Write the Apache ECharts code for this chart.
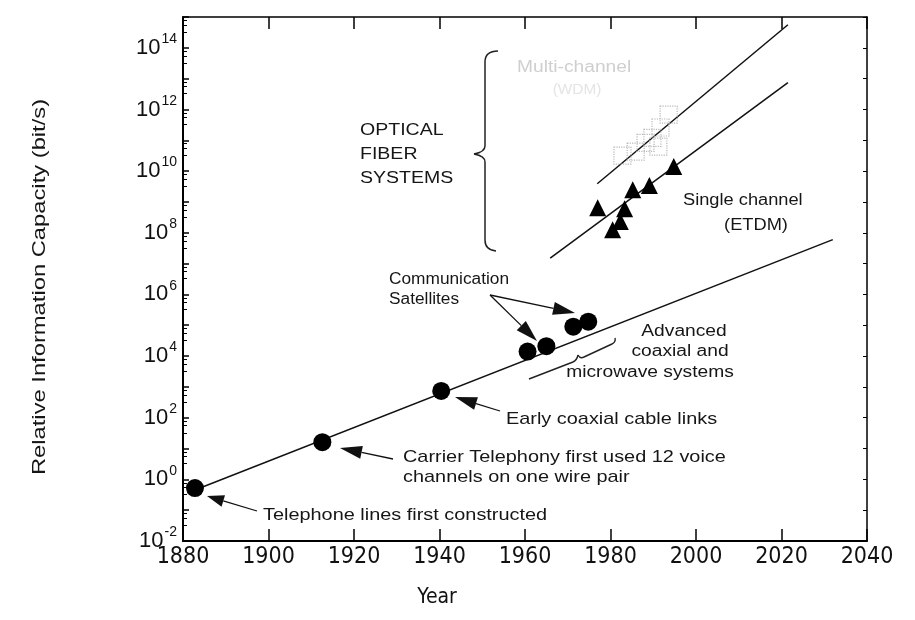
<!DOCTYPE html>
<html>
<head>
<meta charset="utf-8">
<script src="https://cdn.jsdelivr.net/npm/echarts@6/dist/echarts.min.js"></script>
<style>html,body{margin:0;padding:0;background:#fff;}#c{width:915px;height:620px;}</style>
</head>
<body>
<div id="c"></div>
<script>
// ---- data ----
const xTicks = [1880, 1900, 1920, 1940, 1960, 1980, 2000, 2020, 2040];
const yTickExponents = [-2, 0, 2, 4, 6, 8, 10, 12, 14];

const lowerTrendYears = [1881, 2032];
const lowerTrendValues = [0.36, 6e7];
const singleTrendYears = [1965.9, 2021.5];
const singleTrendValues = [1.5e7, 7.4e12];
const multiTrendYears = [1976.9, 2021.5];
const multiTrendValues = [3.9e9, 5.6e14];

const circleYears = [1882.8, 1912.6, 1940.4, 1960.6, 1965.0, 1971.3, 1974.8];
const circleValues = [0.52, 16, 740, 1.4e4, 2.1e4, 9e4, 1.3e5];

const triangleYears = [1977.0, 1980.5, 1982.3, 1983.3, 1985.2, 1989.1, 1994.8];
const triangleValues = [6.5e8, 1.26e8, 2.3e8, 6e8, 2.5e9, 3.4e9, 1.4e10];

const squareYears = [1982.8, 1985.9, 1988.2, 1989.8, 1991.2, 1991.7, 1993.6];
const squareValues = [3.2e10, 4.3e10, 8.3e10, 1.2e11, 6.2e10, 2.6e11, 6.8e11];

// ---- helpers ----
const zip = (xs, ys) => xs.map((x, i) => [x, ys[i]]);
const FONT = "'Liberation Sans', Arial, sans-serif";
const NARROW = "'Liberation Sans Narrow', 'DejaVu Sans Condensed', 'Liberation Sans', sans-serif";

function txt(x, y, s, opt) {
  opt = opt || {};
  return {
    type: 'text', x: x, y: y, scaleX: opt.scaleX || 1.17, z: 10,
    style: {
      text: s, fontSize: opt.size || 17, fontFamily: opt.family || FONT,
      fill: opt.color || '#161616', align: opt.align || 'left', verticalAlign: 'middle'
    }
  };
}
function arrow(x1, y1, x2, y2, hl, hw) {
  const dx = x2 - x1, dy = y2 - y1, L = Math.sqrt(dx * dx + dy * dy);
  const ux = dx / L, uy = dy / L, px = -uy, py = ux;
  const bx = x2 - ux * hl, by = y2 - uy * hl;
  return [
    { type: 'line', z: 10, shape: { x1: x1, y1: y1, x2: bx, y2: by }, style: { stroke: '#111', lineWidth: 1.3 } },
    { type: 'polygon', z: 10, shape: { points: [[x2, y2], [bx + px * hw / 2, by + py * hw / 2], [bx - px * hw / 2, by - py * hw / 2]] }, style: { fill: '#111' } }
  ];
}
// segs: ['L', x1,y1,x2,y2] or ['Q', x1,y1,cx,cy,x2,y2]
function strokes(segs, w) {
  return segs.map(s => s[0] === 'L'
    ? { type: 'line', z: 10, shape: { x1: s[1], y1: s[2], x2: s[3], y2: s[4] }, style: { stroke: '#222', lineWidth: w } }
    : { type: 'bezierCurve', z: 10, shape: { x1: s[1], y1: s[2], cpx1: s[3], cpy1: s[4], x2: s[5], y2: s[6] }, style: { stroke: '#222', fill: null, lineWidth: w } });
}

const graphics = [].concat(
  [
    txt(360, 131, 'OPTICAL', { size: 16, scaleX: 1.22 }),
    txt(360, 155, 'FIBER', { size: 16, scaleX: 1.22 }),
    txt(360, 179, 'SYSTEMS', { size: 16, scaleX: 1.22 }),
    txt(517, 68, 'Multi-channel', { size: 16, scaleX: 1.2, color: '#cfcfcf' }),
    txt(577, 90, '(WDM)', { size: 14, scaleX: 1.1, color: '#e4e4e4', align: 'center' }),
    txt(683, 201, 'Single channel', { size: 16, scaleX: 1.14 }),
    txt(756, 226, '(ETDM)', { size: 16, scaleX: 1.14, align: 'center' }),
    txt(389, 280, 'Communication', { size: 16, scaleX: 1.08 }),
    txt(389, 300, 'Satellites', { size: 16, scaleX: 1.08 }),
    txt(684, 332, 'Advanced', { size: 16, scaleX: 1.2, align: 'center' }),
    txt(680, 352, 'coaxial and', { size: 16, scaleX: 1.2, align: 'center' }),
    txt(650, 373, 'microwave systems', { size: 16, scaleX: 1.2, align: 'center' }),
    txt(506, 419, 'Early coaxial cable links'),
    txt(403, 457, 'Carrier Telephony first used 12 voice'),
    txt(403, 477, 'channels on one wire pair'),
    txt(263, 515, 'Telephone lines first constructed'),
    {
      type: 'text', x: 40, y: 287, rotation: Math.PI / 2, scaleX: 1.25, z: 10,
      style: { text: 'Relative Information Capacity (bit/s)', fontSize: 19, fontFamily: FONT, fill: '#161616', align: 'center', verticalAlign: 'middle' }
    },
    {
      type: 'text', x: 437, y: 598, z: 10,
      style: { text: 'Year', fontSize: 21, fontFamily: NARROW, fill: '#111', align: 'center', verticalAlign: 'middle' }
    }
  ],
  strokes([
    ['Q', 498, 51, 485, 51, 485, 62],
    ['L', 485, 62, 485, 146],
    ['Q', 485, 146, 485, 152, 474, 154],
    ['Q', 474, 154, 485, 156, 485, 162],
    ['L', 485, 162, 485, 240],
    ['Q', 485, 240, 485, 250, 496, 251]
  ], 1.5),
  strokes([
    ['L', 529, 379, 573, 362],
    ['Q', 573, 362, 577, 360, 578, 355],
    ['Q', 578, 355, 580, 359, 584, 357],
    ['L', 584, 357, 612, 344],
    ['Q', 612, 344, 616, 342, 615, 338]
  ], 1.4),
  arrow(257, 511, 207, 496, 17, 12),
  arrow(393, 459, 340, 448, 22, 13),
  arrow(500, 411, 455, 397, 22, 13),
  arrow(490, 295, 575, 313, 22, 13),
  arrow(490, 295, 537, 341, 22, 13)
);

const chart = echarts.init(document.getElementById('c'), null, { renderer: 'canvas' });
const axisLineStyle = { color: '#000', width: 2 };
chart.setOption({
  backgroundColor: '#fff',
  animation: false,
  grid: { left: 183, right: 48, top: 17, bottom: 79, containLabel: false },
  xAxis: [
    {
      type: 'value', min: xTicks[0], max: xTicks[xTicks.length - 1], interval: 20,
      axisLine: { show: true, lineStyle: axisLineStyle },
      axisTick: { show: true, inside: true, length: 12, lineStyle: { color: '#000', width: 1.5 } },
      axisLabel: { color: '#111', fontSize: 23, fontFamily: NARROW, margin: 5, formatter: v => String(v) },
      splitLine: { show: false }
    },
    {
      type: 'value', position: 'top', min: xTicks[0], max: xTicks[xTicks.length - 1], interval: 20,
      axisLine: { show: true, lineStyle: { color: '#000', width: 1.5 } },
      axisTick: { show: true, inside: true, length: 12, lineStyle: { color: '#000', width: 1.5 } },
      axisLabel: { show: false }, splitLine: { show: false }
    }
  ],
  yAxis: [
    {
      type: 'log', logBase: 10, min: Math.pow(10, yTickExponents[0]), max: 1e15, interval: 1,
      axisLine: { show: true, lineStyle: axisLineStyle },
      axisTick: { show: true, inside: true, length: 6, lineStyle: { color: '#000', width: 1.5 } },
      minorTick: { show: true, splitNumber: 4, length: 4, lineStyle: { color: '#000', width: 1 } },
      axisLabel: {
        margin: 6, color: '#111', showMinLabel: true, showMaxLabel: true,
        formatter: function (v) {
          const e = Math.round(Math.log10(v));
          if (yTickExponents.indexOf(e) < 0) return '';
          return '{b|10}{s|' + e + '}';
        },
        rich: {
          b: { fontSize: 22, fontFamily: FONT, color: '#111' },
          s: { fontSize: 14, fontFamily: FONT, color: '#111', padding: [0, 0, 17, 1] }
        }
      },
      splitLine: { show: false }
    },
    {
      type: 'log', logBase: 10, position: 'right', min: Math.pow(10, yTickExponents[0]), max: 1e15, interval: 1,
      axisLine: { show: true, lineStyle: { color: '#000', width: 1.5 } },
      axisTick: { show: true, inside: true, length: 4, lineStyle: { color: '#000', width: 1 } },
      axisLabel: { show: false }, splitLine: { show: false }
    }
  ],
  series: [
    { type: 'line', data: zip(lowerTrendYears, lowerTrendValues), symbol: 'none', lineStyle: { color: '#111', width: 1.5 }, z: 2 },
    { type: 'line', data: zip(singleTrendYears, singleTrendValues), symbol: 'none', lineStyle: { color: '#111', width: 1.5 }, z: 2 },
    { type: 'line', data: zip(multiTrendYears, multiTrendValues), symbol: 'none', lineStyle: { color: '#111', width: 1.5 }, z: 2 },
    { type: 'scatter', data: zip(squareYears, squareValues), symbol: 'rect', symbolSize: 17,
      itemStyle: { color: 'rgba(255,255,255,0)', borderColor: '#b8b8b8', borderType: 'dotted', borderWidth: 1.2, opacity: 1 }, z: 3 },
    { type: 'scatter', data: zip(circleYears, circleValues), symbol: 'circle', symbolSize: 18, itemStyle: { color: '#000', opacity: 1 }, z: 4 },
    { type: 'scatter', data: zip(triangleYears, triangleValues), symbol: 'triangle', symbolSize: 17, itemStyle: { color: '#000', opacity: 1 }, z: 4 }
  ],
  graphic: graphics
});
</script>
</body>
</html>
